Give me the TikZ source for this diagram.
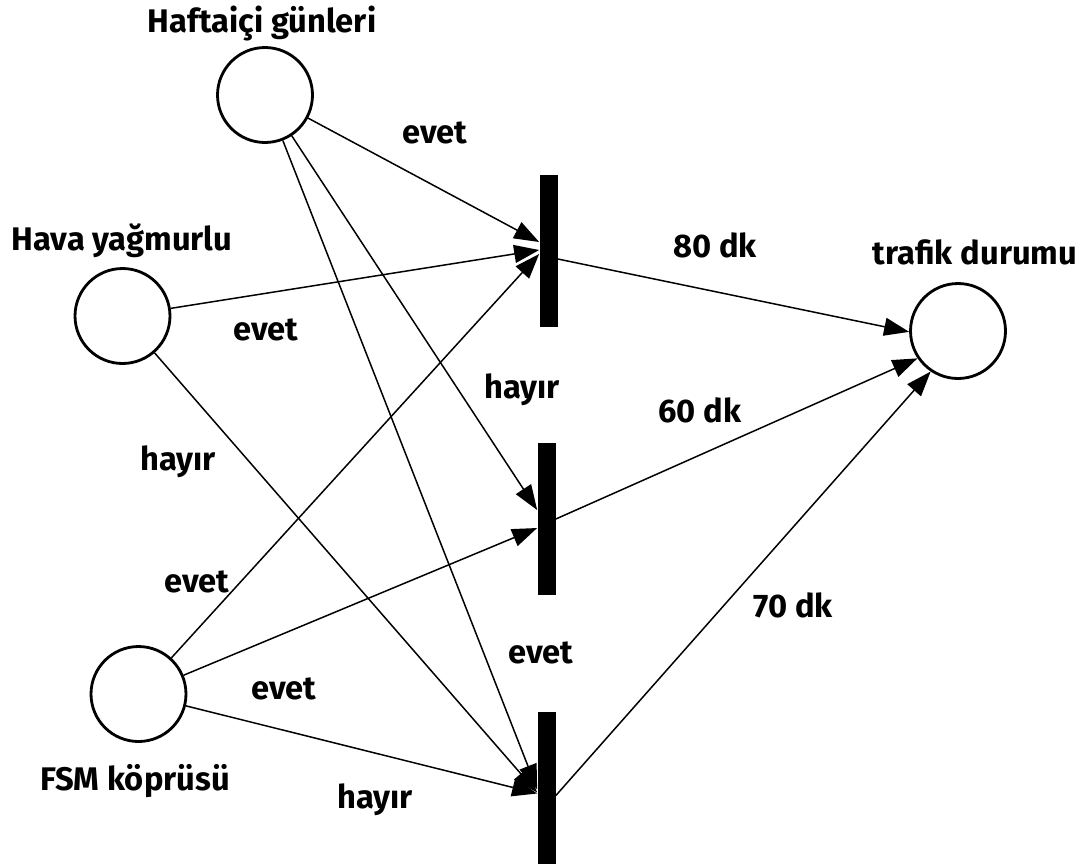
\documentclass[tikz,border=0pt]{standalone}
\usepackage{fontspec}
\setmainfont{Fira Sans}
\usetikzlibrary{shapes,arrows,positioning,calc,arrows.meta}

\tikzset{
    place/.style={circle, draw, line width=1.6pt, minimum size=1.9cm, inner sep=0pt},
    trans/.style={rectangle, fill=black, minimum width=0.36cm, minimum height=3.04cm, inner sep=0pt},
    arc/.style={line width=0.85pt, -{Triangle[length=0.5cm, width=0.36cm]}},
    lbl/.style={font=\fontsize{18.6}{22}\selectfont\bfseries, inner sep=0pt},
}

\begin{document}
\begin{tikzpicture}[x=0.02cm, y=-0.02cm]
    \useasboundingbox (0, 0) rectangle (1087, 866);

    % Places
    \node [place] (hafta) at (265, 95) {};
    \node [lbl] (l-hafta) at (262, 24) {Haftaiçi günleri};
    \node [place] (hava) at (122.5, 316) {};
    \node [lbl] (l-hava) at (122, 241) {Hava yağmurlu};
    \node [place] (fsm) at (138.5, 694) {};
    \node [lbl] (l-fsm) at (135, 781) {FSM köprüsü};
    \node [place] (trafik) at (958, 331) {};
    \node [lbl] (l-trafik) at (975, 252) {trafik durumu};

    % Transitions
    \node [trans] (t1) at (548.5, 251) {};
    \node [trans] (t2) at (546.5, 519) {};
    \node [trans] (t3) at (546.5, 787.5) {};

    % Haftaici gunleri
    \draw [arc] (hafta) -- ($(t1.west)+(0, -9)$);
    \node [lbl] (e1) at (435, 133) {evet};
    \draw [arc] (hafta) -- ($(t2.west)+(0, -9)$);
    \node [lbl] (h1) at (522, 390) {hayır};
    \draw [arc] (hafta) -- ($(t3.west)+(0, 2)$);
    \node [lbl] (e2) at (541, 653) {evet};

    % Hava yagmurlu
    \draw [arc] (hava) -- ($(t1.west)+(0, -1)$);
    \node [lbl] (e3) at (266, 330) {evet};
    \draw [arc] (hava) -- ($(t3.west)+(0, 5)$);
    \node [lbl] (h2) at (178, 462) {hayır};

    % FSM koprusu
    \draw [arc] (fsm) -- ($(t1.west)+(0, 3)$);
    \node [lbl] (e4) at (197, 582) {evet};
    \draw [arc] (fsm) -- ($(t2.west)+(0, 9)$);
    \node [lbl] (e5) at (284, 689) {evet};
    \draw [arc] (fsm) -- ($(t3.west)+(0, 6)$);
    \node [lbl] (h3) at (375, 800) {hayır};

    % Durations
    \draw [arc] ($(t1.east)+(0, 8)$) -- (trafik.181);
    \node [lbl] (d1) at (715, 245) {80 dk};
    \draw [arc] (t2.east) -- (trafik.214);
    \node [lbl] (d2) at (700, 410) {60 dk};
    \draw [arc] ($(t3.east)+(0, 8)$) -- (trafik.236);
    \node [lbl] (d3) at (793, 605) {70 dk};
\end{tikzpicture}
\end{document}
